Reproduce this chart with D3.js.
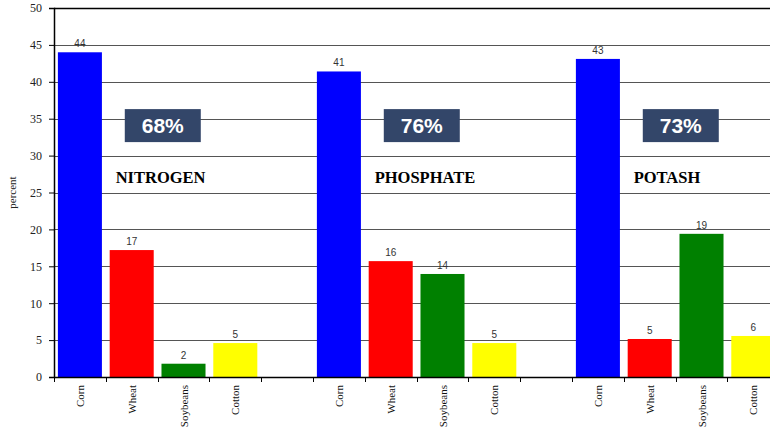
<!DOCTYPE html>
<html>
<head>
<meta charset="utf-8">
<script src="https://cdn.jsdelivr.net/npm/d3@7/dist/d3.min.js"></script>
<style>
  html, body { margin: 0; padding: 0; background: #fff; }
  svg { display: block; }
</style>
</head>
<body>
<svg id="chart" width="770" height="430"></svg>
<script>
// Crops and nutrient groups
const crops = ["Corn", "Wheat", "Soybeans", "Cotton"];
const nutrients = ["NITROGEN", "PHOSPHATE", "POTASH"];
const cropColors = ["#0000ff", "#ff0000", "#008000", "#ffff00"];

// Share of each nutrient applied to each crop (percent)
const nitrogen = [44.0, 17.2, 1.8, 4.6];
const phosphate = [41.4, 15.7, 13.96, 4.6];
const potash = [43.1, 5.15, 19.4, 5.56];
const seriesValues = [nitrogen, phosphate, potash];

// Combined share of the four crops
const groupTotals = ["68%", "76%", "73%"];

const yTicks = [0, 5, 10, 15, 20, 25, 30, 35, 40, 45, 50];

const svg = d3.select("#chart");
const plotLeft = 54, plotRight = 779.2, plotTop = 8, plotBottom = 377;

// One slot per crop, with an empty slot between nutrient groups
const slots = [];
nutrients.forEach((n, gi) => {
  crops.forEach(c => slots.push(n + "|" + c));
  if (gi < nutrients.length - 1) slots.push("gap" + gi);
});

const x = d3.scaleBand().domain(slots).range([plotLeft, plotRight]).paddingInner(0).paddingOuter(0);
const y = d3.scaleLinear().domain([0, 50]).range([plotBottom, plotTop]);
const bw = x.bandwidth();

const bars = [];
nutrients.forEach((n, gi) => {
  crops.forEach((c, ci) => {
    bars.push({ key: n + "|" + c, crop: c, ci, gi, value: seriesValues[gi][ci] });
  });
});

// Horizontal gridlines
svg.append("g")
  .selectAll("line")
  .data(yTicks.filter(t => t > 0 && t < 50))
  .join("line")
  .attr("x1", plotLeft).attr("x2", 770)
  .attr("y1", d => Math.round(y(d)) + 0.5).attr("y2", d => Math.round(y(d)) + 0.5)
  .attr("stroke", "#555").attr("stroke-width", 1);

// Top border
svg.append("line")
  .attr("x1", plotLeft).attr("x2", 770)
  .attr("y1", Math.round(y(50)) + 0.5).attr("y2", Math.round(y(50)) + 0.5)
  .attr("stroke", "#000").attr("stroke-width", 1.5);

// Bars
const barW = bw * 0.85;
svg.append("g")
  .selectAll("rect")
  .data(bars)
  .join("rect")
  .attr("x", d => x(d.key) + (bw - barW) / 2)
  .attr("y", d => y(d.value))
  .attr("width", barW)
  .attr("height", d => y(0) - y(d.value))
  .attr("fill", d => cropColors[d.ci]);

// Value labels
const fmt = d3.format(".0f");
svg.append("g")
  .selectAll("text")
  .data(bars)
  .join("text")
  .attr("x", d => x(d.key) + bw / 2)
  .attr("y", d => y(d.value) - 5)
  .attr("text-anchor", "middle")
  .attr("font-family", "Liberation Sans, Arial, sans-serif")
  .attr("font-size", 10)
  .attr("fill", "#333")
  .text(d => fmt(d.value));

// Y axis
const yAxis = svg.append("g")
  .attr("transform", `translate(${plotLeft},0)`)
  .call(d3.axisLeft(y).tickValues(yTicks).tickSize(5).tickPadding(7).tickFormat(d3.format("d")));
yAxis.attr("font-family", "Liberation Serif, Times New Roman, serif");
yAxis.select(".domain").attr("stroke", "#000").attr("stroke-width", 1.5);
yAxis.selectAll(".tick line").attr("stroke", "#000");
yAxis.selectAll(".tick text")
  .attr("font-family", "Liberation Serif, Times New Roman, serif")
  .attr("font-size", 12)
  .attr("fill", "#222");

svg.append("text")
  .attr("transform", `translate(16,${(plotTop + plotBottom) / 2}) rotate(-90)`)
  .attr("text-anchor", "middle")
  .attr("font-family", "Liberation Serif, Times New Roman, serif")
  .attr("font-size", 11)
  .attr("fill", "#222")
  .text("percent");

// X axis line
svg.append("line")
  .attr("x1", plotLeft).attr("x2", 770)
  .attr("y1", plotBottom + 0.5).attr("y2", plotBottom + 0.5)
  .attr("stroke", "#000").attr("stroke-width", 1.5);

// X ticks at band boundaries within each group
const xTickPos = [];
nutrients.forEach(n => {
  crops.forEach(c => xTickPos.push(x(n + "|" + c)));
  xTickPos.push(x(n + "|" + crops[crops.length - 1]) + bw);
});
svg.append("g")
  .selectAll("line")
  .data(xTickPos)
  .join("line")
  .attr("x1", d => Math.round(d) + 0.5).attr("x2", d => Math.round(d) + 0.5)
  .attr("y1", plotBottom).attr("y2", plotBottom + 5)
  .attr("stroke", "#000");

// Crop labels, rotated
svg.append("g")
  .selectAll("text")
  .data(bars)
  .join("text")
  .attr("transform", d => `translate(${x(d.key) + bw / 2 + 4},${plotBottom + 8}) rotate(-90)`)
  .attr("text-anchor", "end")
  .attr("font-family", "Liberation Serif, Times New Roman, serif")
  .attr("font-size", 11)
  .attr("fill", "#111")
  .text(d => d.crop);

// Group total boxes and nutrient names
const groups = svg.append("g")
  .selectAll("g")
  .data(nutrients)
  .join("g");

const boxW = 76, boxH = 33;
groups.append("rect")
  .attr("x", d => x(d + "|Corn") + 2.1 * bw - boxW / 2)
  .attr("y", y(36.3))
  .attr("width", boxW)
  .attr("height", boxH)
  .attr("fill", "#334669");

groups.append("text")
  .attr("x", d => x(d + "|Corn") + 2.1 * bw)
  .attr("y", y(36.3) + boxH / 2 + 7.5)
  .attr("text-anchor", "middle")
  .attr("font-family", "Liberation Sans, Arial, sans-serif")
  .attr("font-weight", "bold")
  .attr("font-size", 21)
  .attr("fill", "#fff")
  .text((d, i) => groupTotals[i]);

groups.append("text")
  .attr("x", d => x(d + "|Corn") + 1.19 * bw)
  .attr("y", 183)
  .attr("font-family", "Liberation Serif, Times New Roman, serif")
  .attr("font-weight", "bold")
  .attr("font-size", 16.5)
  .attr("fill", "#000")
  .text(d => d);
</script>
</body>
</html>
